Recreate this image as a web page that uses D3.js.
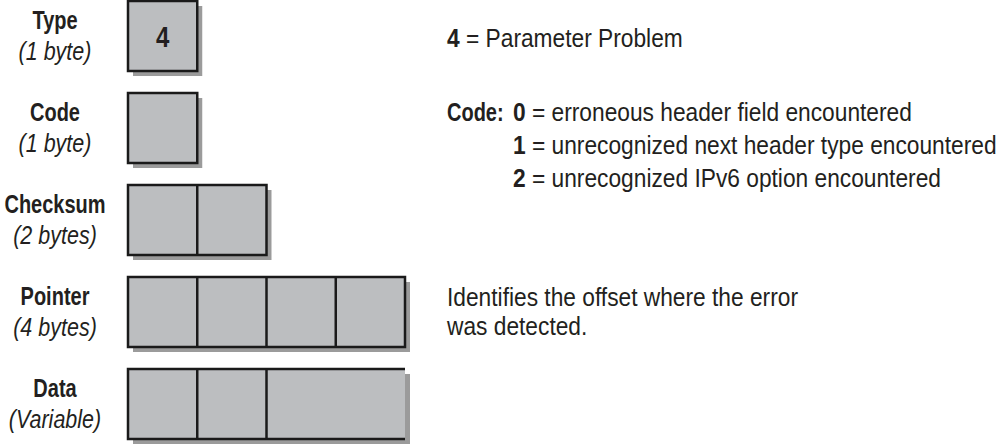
<!DOCTYPE html>
<html>
<head>
<meta charset="utf-8">
<script src="https://cdn.jsdelivr.net/npm/d3@7"></script>
<style>
    body { margin: 0; background: #fff; }
    svg { display: block; }
    text { font-family: 'Liberation Sans', Arial, sans-serif; fill: #231f20; }
</style>
</head>
<body>
<svg width="1000" height="446"></svg>
<script>
// ICMPv6 Parameter Problem message fields
const fieldNames = ['Type', 'Code', 'Checksum', 'Pointer', 'Data'];
const fieldSizes = ['(1 byte)', '(1 byte)', '(2 bytes)', '(4 bytes)', '(Variable)'];
const fieldBytes = [1, 1, 2, 4, 4];
const fieldDividers = [[], [], [1], [1, 2, 3], [1, 2]];
const fieldOpen = [false, false, false, false, true];
const fieldValues = ['4', '', '', '', ''];

// Notes on the right
const typeNote = ['4', ' = Parameter Problem'];
const codeKeys = ['0', '1', '2'];
const codeTexts = [
    ' = erroneous header field encountered',
    ' = unrecognized next header type encountered',
    ' = unrecognized IPv6 option encountered'
];
const pointerNote = ['Identifies the offset where the error', 'was detected.'];

// Horizontal squeeze to get a condensed face
const place = (px, py, k) => `translate(${px},${py}) scale(${k},1)`;
const boldK = 0.8;
const italicK = 0.86;
const plainK = 0.91;

const svg = d3.select('svg');

// Scales
const y = d3.scaleBand().domain(fieldNames).range([1, 439]).paddingInner(0.239).paddingOuter(0);
const x = d3.scaleLinear().domain([0, 4]).range([128, 405]);

const fields = fieldNames.map((name, i) => ({
    name,
    size: fieldSizes[i],
    bytes: fieldBytes[i],
    dividers: fieldDividers[i],
    open: fieldOpen[i],
    value: fieldValues[i]
}));

// Shadows
svg.append('g')
    .selectAll('rect')
    .data(fields)
    .join('rect')
    .attr('x', (d) => x(0) + 5)
    .attr('y', (d) => y(d.name) + 5)
    .attr('width', (d) => x(d.bytes) - x(0))
    .attr('height', y.bandwidth())
    .attr('fill', '#9b9b9b');

// Boxes
const boxes = svg.append('g')
    .selectAll('g')
    .data(fields)
    .join('g')
    .attr('transform', (d) => `translate(0,${y(d.name)})`);

boxes.append('rect')
    .attr('x', x(0))
    .attr('width', (d) => x(d.bytes) - x(0))
    .attr('height', y.bandwidth())
    .attr('fill', '#bcbec0');

boxes.append('path')
    .attr('fill', 'none')
    .attr('stroke', '#1a1a1a')
    .attr('stroke-width', 2.5)
    .attr('d', (d) => {
        const x0 = x(0), x1 = x(d.bytes), h = y.bandwidth();
        if (d.open) return `M${x1},0H${x0}V${h}H${x1}`;
        return `M${x0},0H${x1}V${h}H${x0}Z`;
    });

boxes.selectAll('line')
    .data((d) => d.dividers)
    .join('line')
    .attr('x1', (d) => x(d))
    .attr('x2', (d) => x(d))
    .attr('y1', 0)
    .attr('y2', y.bandwidth())
    .attr('stroke', '#1a1a1a')
    .attr('stroke-width', 2.5);

boxes.append('text')
    .attr('transform', place((x(0) + x(1)) / 2, 46, boldK))
    .attr('text-anchor', 'middle')
    .attr('font-weight', 'bold')
    .attr('font-size', 30)
    .text((d) => d.value);

// Labels on the left
boxes.append('text')
    .attr('transform', place(55, 28, boldK))
    .attr('text-anchor', 'middle')
    .attr('font-weight', 'bold')
    .attr('font-size', 25)
    .text((d) => d.name);

boxes.append('text')
    .attr('transform', place(55, 59, italicK))
    .attr('text-anchor', 'middle')
    .attr('font-style', 'italic')
    .attr('font-size', 25)
    .text((d) => d.size);

// Notes
const notes = svg.append('g').attr('font-size', 25);

const t1 = notes.append('text').attr('transform', place(447, 47, plainK));
t1.append('tspan').attr('font-weight', 'bold').text(typeNote[0]);
t1.append('tspan').text(typeNote[1]);

notes.append('text')
    .attr('transform', place(447, 121, boldK))
    .attr('font-weight', 'bold')
    .text('Code:');

const codeLines = notes.selectAll('text.code')
    .data(codeKeys)
    .join('text')
    .attr('class', 'code')
    .attr('transform', (d, i) => place(513, 121 + i * 33, plainK));
codeLines.append('tspan').attr('font-weight', 'bold').text((d) => d);
codeLines.append('tspan').text((d, i) => codeTexts[i]);

notes.selectAll('text.ptr')
    .data(pointerNote)
    .join('text')
    .attr('class', 'ptr')
    .attr('transform', (d, i) => place(447, 306 + i * 29, plainK))
    .text((d) => d);
</script>
</body>
</html>
